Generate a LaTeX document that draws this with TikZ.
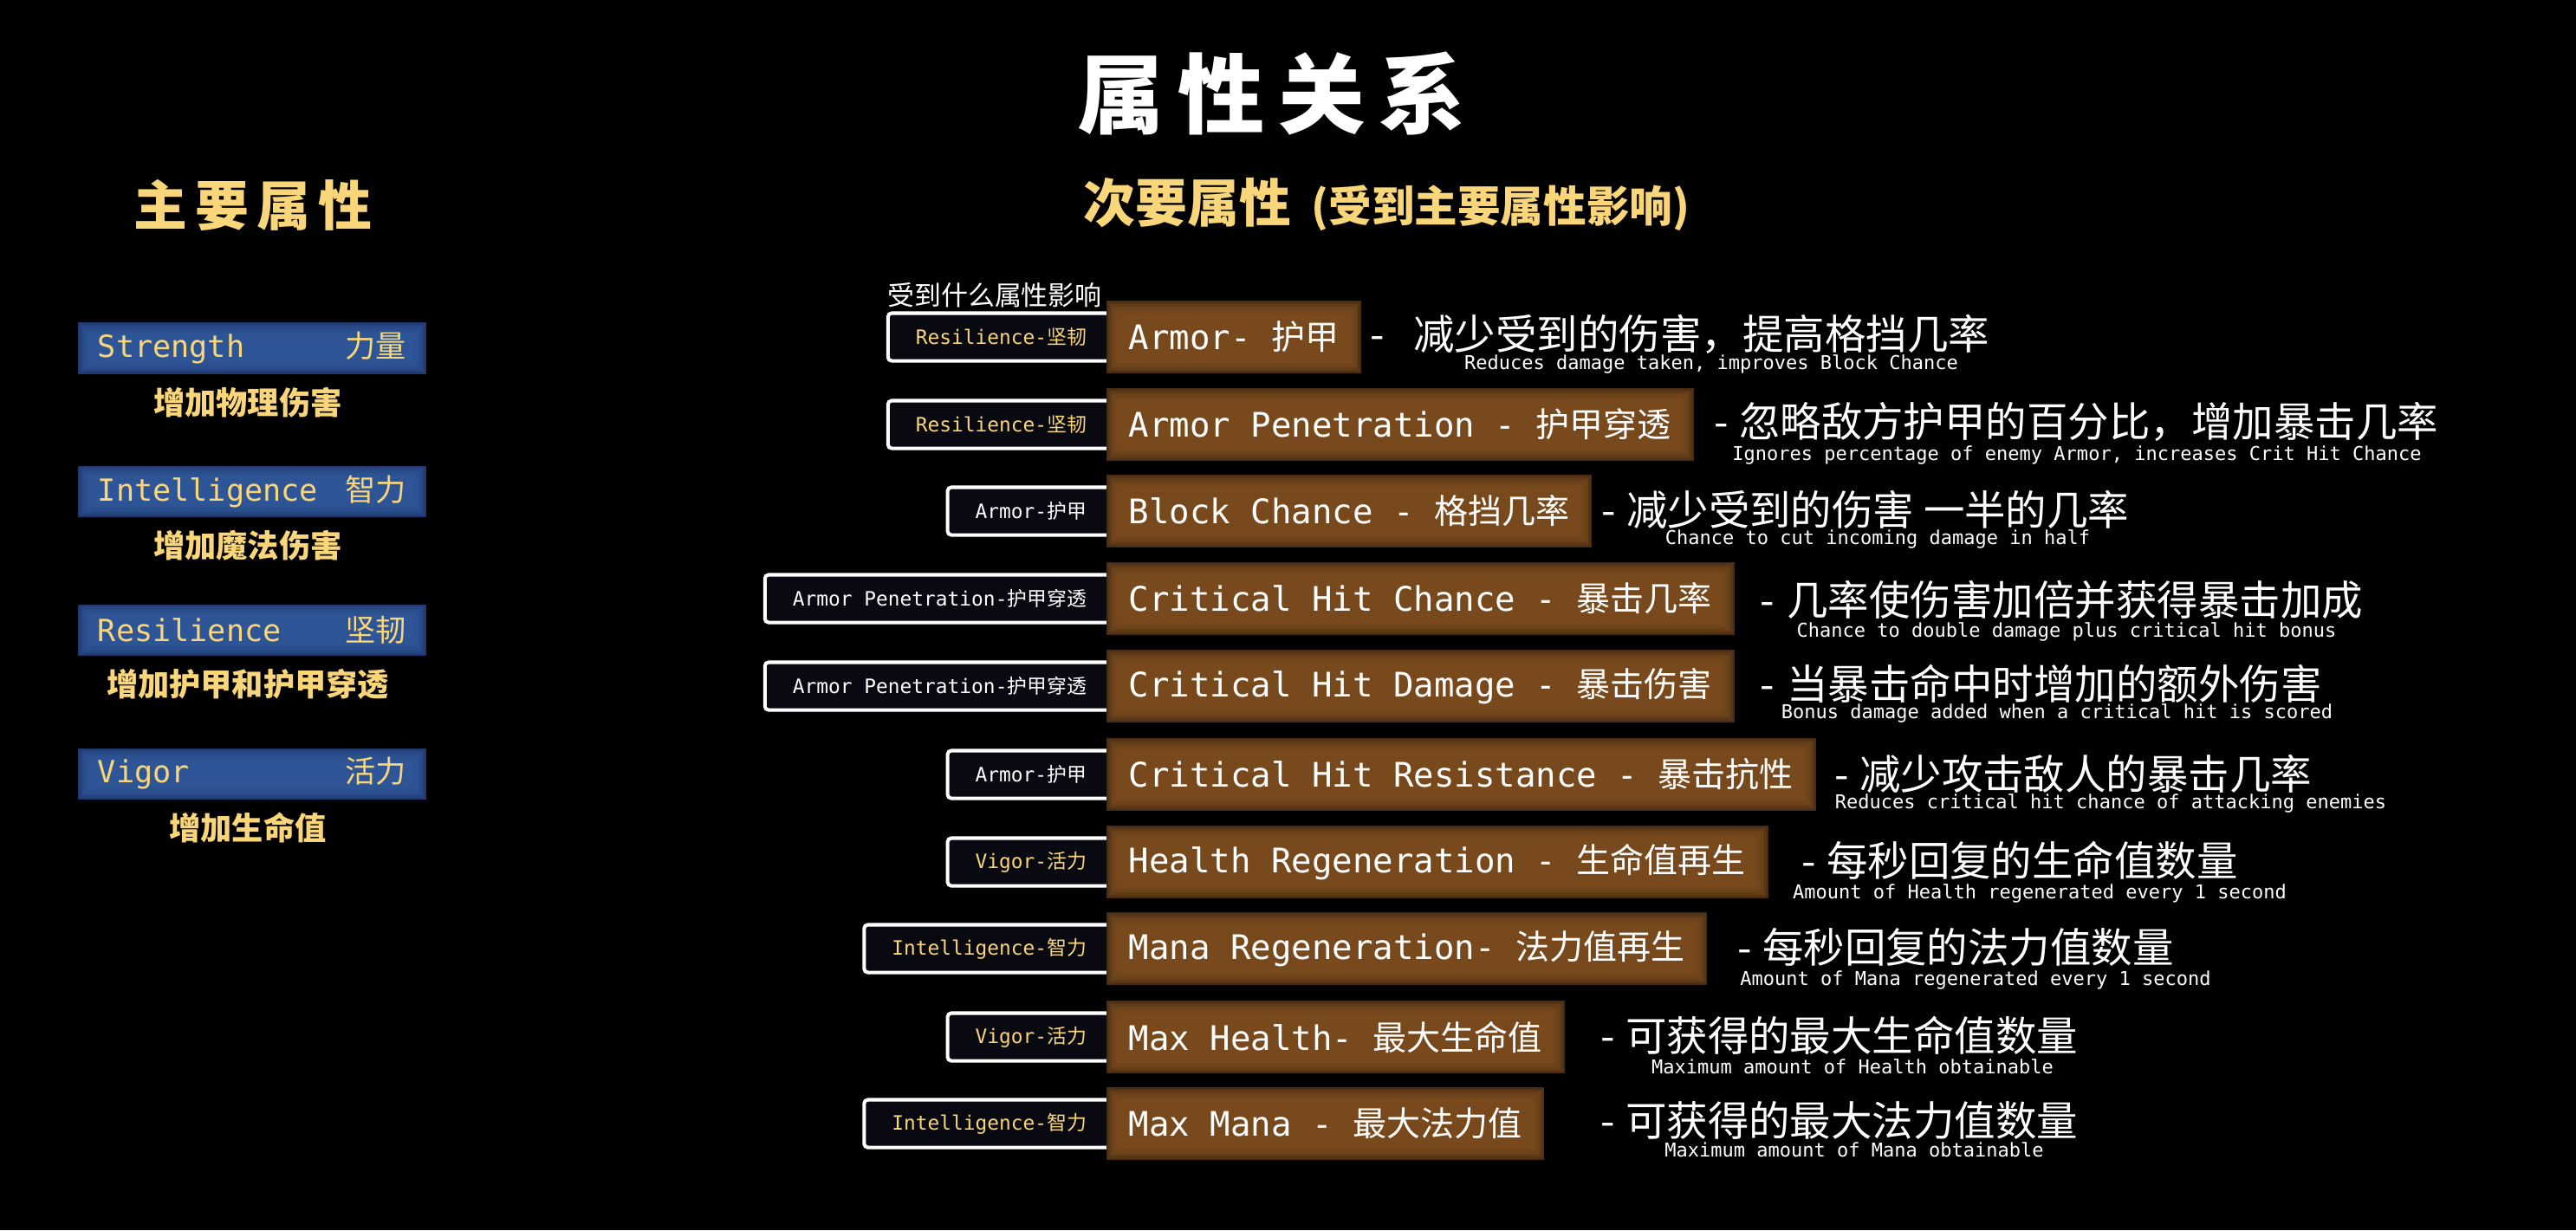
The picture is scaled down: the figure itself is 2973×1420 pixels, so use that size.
\documentclass[tikz,border=0pt]{standalone}
\usepackage{fontspec}
\setmonofont{DejaVu Sans Mono}
\newfontfamily\cjk{Noto Sans CJK SC}
\usetikzlibrary{positioning}
\definecolor{figGold}{RGB}{249,214,122}
\definecolor{figBrown}{RGB}{123,76,31}
\definecolor{figBrownEdge}{RGB}{72,43,16}
\definecolor{figBlue}{RGB}{48,88,154}
\definecolor{figBlueEdge}{RGB}{30,56,110}
\definecolor{figSlot}{RGB}{9,9,17}
\newcommand{\zh}[1]{{\cjk #1}}
\tikzset{glow/.style={path picture={
  \foreach \k in {1,...,10}
    \fill[#1, opacity=0.3] ([shift={(\k*0.55pt,\k*0.55pt)}]path picture bounding box.south west)
      rectangle ([shift={(-\k*0.55pt,-\k*0.55pt)}]path picture bounding box.north east);
}}}

\begin{document}
\begin{tikzpicture}[
  x=0.01cm,
  y=-0.01cm,
  main/.style={fill=figBlueEdge, glow=figBlue, text=figGold, font=\ttfamily\fontsize{10pt}{12pt}\selectfont, minimum height=0.59cm, text width=3.56cm, inner xsep=0.23cm, inner ysep=0pt},
  gain/.style={text=figGold, font=\cjk\bfseries\fontsize{10.3pt}{12pt}\selectfont, inner sep=0pt, xshift=-0.05cm},
  src/.style={fill=figSlot, draw=white, line width=1.15pt, rounded corners=1.2pt, text=figGold, font=\ttfamily\fontsize{6.5pt}{8pt}\selectfont, minimum height=0.55cm, inner xsep=0.32cm, anchor=east},
  srcw/.style={src, text=white},
  stat/.style={fill=figBrownEdge, glow=figBrown, text=white, font=\ttfamily\fontsize{11.1pt}{13pt}\selectfont, minimum height=0.84cm, inner xsep=0.26cm, anchor=west},
  effect/.style={text=white, font=\cjk\fontsize{13.5pt}{15pt}\selectfont, inner sep=0pt, anchor=west},
  note/.style={text=white, font=\ttfamily\fontsize{6.26pt}{7.5pt}\selectfont, inner sep=0pt}
]
\useasboundingbox (0,0) rectangle (2973,1420);
\fill[black] (0,0) rectangle (2973,1420);

\node[text=white, font=\cjk\bfseries\fontsize{28.5pt}{30pt}\selectfont] (title) at (1468,108) {属\hspace{4.5pt}性\hspace{4.5pt}关\hspace{4.5pt}系};
\node[text=figGold, font=\cjk\bfseries\fontsize{17.6pt}{19pt}\selectfont] (primhead) at (292,237) {主\hspace{2.6pt}要\hspace{2.6pt}属\hspace{2.6pt}性};
\node[text=figGold, font=\cjk\bfseries\fontsize{17pt}{19pt}\selectfont, anchor=west, inner sep=0pt] (sechead) at (1250,236)
{次要属性\hspace{0.4em}{\fontsize{14.1pt}{16pt}\selectfont (受到主要属性影响)}};

% primary attributes
\node[main] (str) at (291,402) {Strength\hfill\zh{力量}};
\node[gain, below=0.14cm of str] (strg) {增加物理伤害};
\node[main] (int) at (291,567) {Intelligence\hfill\zh{智力}};
\node[gain, below=0.14cm of int] (intg) {增加魔法伤害};
\node[main] (res) at (291,727) {Resilience\hfill\zh{坚韧}};
\node[gain, below=0.14cm of res] (resg) {增加护甲和护甲穿透};
\node[main] (vig) at (291,893) {Vigor\hfill\zh{活力}};
\node[gain, below=0.14cm of vig] (vigg) {增加生命值};

% secondary attributes
\node[text=white, font=\cjk\fontsize{8.8pt}{10pt}\selectfont] (askhead) at (1148,341) {受到什么属性影响};

\node[src] (a1) at (1288,389) {Resilience-\zh{坚韧}};
\node[stat] (s1) at (1276,389) {Armor- \zh{护甲}};
\node[effect] (e1) at (1581,386) {-\hspace{0.7em}减少受到的伤害，提高格挡几率};
\node[note] (n1) at (1975,420) {Reduces damage taken, improves Block Chance};

\node[src] (a2) at (1288,490) {Resilience-\zh{坚韧}};
\node[stat] (s2) at (1276,490) {Armor Penetration - \zh{护甲穿透}};
\node[effect] (e2) at (1978,487) {-\hspace{0.25em}忽略敌方护甲的百分比，增加暴击几率};
\node[note] (n2) at (2397,525) {Ignores percentage of enemy Armor, increases Crit Hit Chance};

\node[srcw] (a3) at (1288,590) {Armor-\zh{护甲}};
\node[stat] (s3) at (1276,590) {Block Chance - \zh{格挡几率}};
\node[effect] (e3) at (1848,588) {-\hspace{0.25em}减少受到的伤害 一半的几率};
\node[note] (n3) at (2167,622) {Chance to cut incoming damage in half};

\node[srcw] (a4) at (1288,691) {Armor Penetration-\zh{护甲穿透}};
\node[stat] (s4) at (1276,691) {Critical Hit Chance - \zh{暴击几率}};
\node[effect] (e4) at (2031,692) {-\hspace{0.3em}几率使伤害加倍并获得暴击加成};
\node[note] (n4) at (2385,729) {Chance to double damage plus critical hit bonus};

\node[srcw] (a5) at (1288,792) {Armor Penetration-\zh{护甲穿透}};
\node[stat] (s5) at (1276,792) {Critical Hit Damage - \zh{暴击伤害}};
\node[effect] (e5) at (2031,789) {-\hspace{0.3em}当暴击命中时增加的额外伤害};
\node[note] (n5) at (2374,823) {Bonus damage added when a critical hit is scored};

\node[srcw] (a6) at (1288,894) {Armor-\zh{护甲}};
\node[stat] (s6) at (1276,894) {Critical Hit Resistance - \zh{暴击抗性}};
\node[effect] (e6) at (2117,893) {-\hspace{0.25em}减少攻击敌人的暴击几率};
\node[note] (n6) at (2436,927) {Reduces critical hit chance of attacking enemies};

\node[src] (a7) at (1288,995) {Vigor-\zh{活力}};
\node[stat] (s7) at (1276,995) {Health Regeneration - \zh{生命值再生}};
\node[effect] (e7) at (2079,993) {-\hspace{0.25em}每秒回复的生命值数量};
\node[note] (n7) at (2354,1031) {Amount of Health regenerated every 1 second};

\node[src] (a8) at (1288,1095) {Intelligence-\zh{智力}};
\node[stat] (s8) at (1276,1095) {Mana Regeneration- \zh{法力值再生}};
\node[effect] (e8) at (2005,1093) {-\hspace{0.25em}每秒回复的法力值数量};
\node[note] (n8) at (2280,1131) {Amount of Mana regenerated every 1 second};

\node[src] (a9) at (1288,1197) {Vigor-\zh{活力}};
\node[stat] (s9) at (1276,1197) {Max Health- \zh{最大生命值}};
\node[effect] (e9) at (1847,1195) {-\hspace{0.25em}可获得的最大生命值数量};
\node[note] (n9) at (2138,1231) {Maximum amount of Health obtainable};

\node[src] (a10) at (1288,1297) {Intelligence-\zh{智力}};
\node[stat] (s10) at (1276,1297) {Max Mana - \zh{最大法力值}};
\node[effect] (e10) at (1847,1293) {-\hspace{0.25em}可获得的最大法力值数量};
\node[note] (n10) at (2140,1327) {Maximum amount of Mana obtainable};
\end{tikzpicture}
\end{document}
